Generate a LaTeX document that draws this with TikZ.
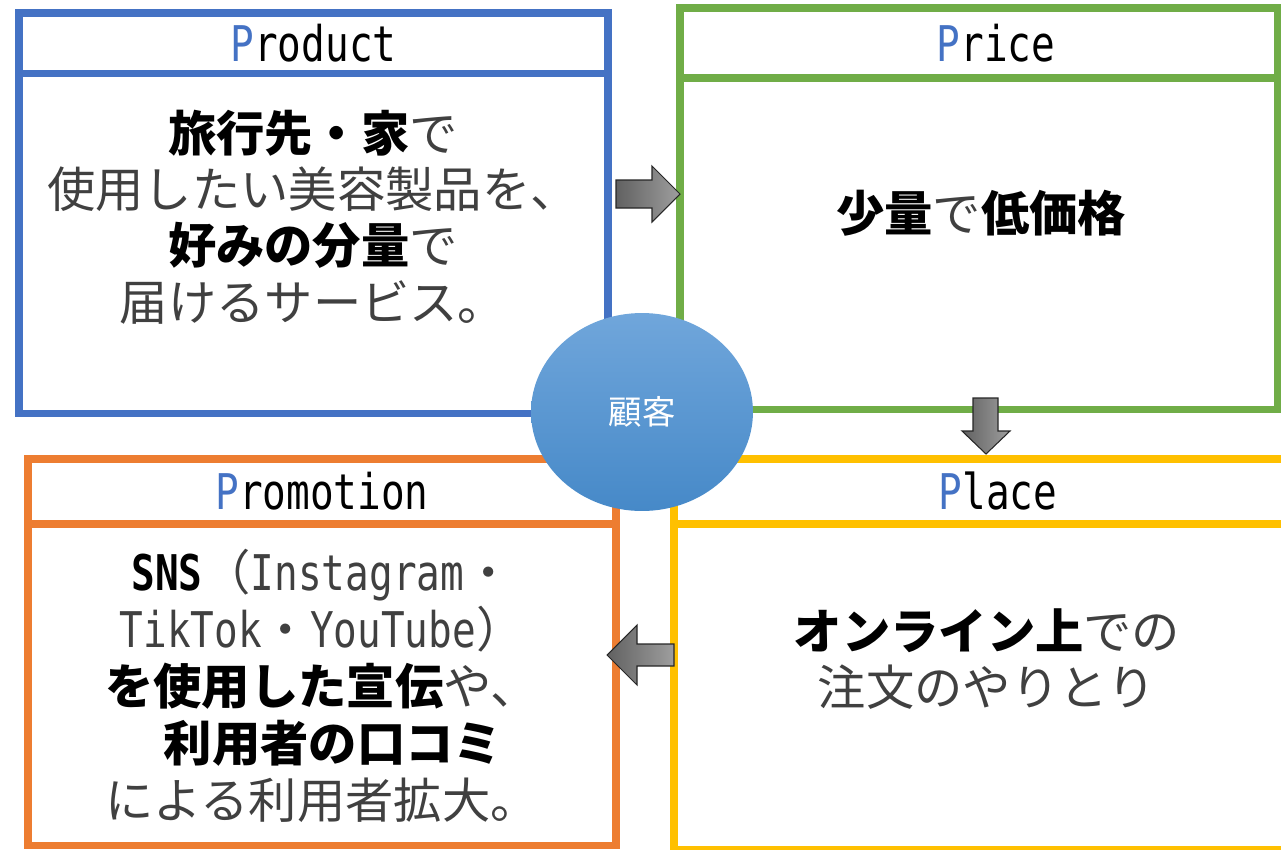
\documentclass[tikz,border=0pt]{standalone}
\usepackage{fontspec}
\setmainfont{Noto Sans CJK JP}
\newfontfamily\titlefont[FakeStretch=0.8]{DejaVu Sans Mono}
\usepackage{tikz}
\usetikzlibrary{positioning,shapes.geometric,calc}
\usepackage{xcolor}

\definecolor{prodblue}{HTML}{4472C4}
\definecolor{pricegreen}{HTML}{70AD47}
\definecolor{placeyellow}{HTML}{FFC000}
\definecolor{promoorange}{HTML}{ED7D31}
\definecolor{bodygray}{HTML}{404040}
\definecolor{custtop}{HTML}{70A6DB}
\definecolor{custbottom}{HTML}{4689C8}

\newcommand{\bigP}[1]{{\color{prodblue}P}#1}
\newcommand{\keyword}[1]{{\bfseries\color{black}#1}}
\newcommand{\latin}[1]{{\titlefont\fontsize{28pt}{32pt}\selectfont #1}}

\begin{document}
\begin{tikzpicture}[
    x=0.02cm, y=-0.02cm,
    head/.style={
        rectangle, draw, line width=4.2pt, outer sep=0pt, inner sep=0pt,
        font=\titlefont\fontsize{28pt}{32pt}\selectfont
    },
    cell/.style={
        rectangle, draw, line width=4.2pt, outer sep=0pt, inner sep=0pt
    },
    maintext/.style={
        align=center, text=bodygray,
        font=\fontsize{27.5pt}{32pt}\selectfont
    },
    customer/.style={
        ellipse, top color=custtop, bottom color=custbottom, draw=none,
        minimum width=4.44cm, minimum height=3.96cm,
        text=white, font=\fontsize{19pt}{22pt}\selectfont
    },
    blockarrow/.style={
        draw=black!85, line width=0.6pt,
        left color=black!62, right color=black!38
    }
]
\useasboundingbox (0,0) rectangle (1281,849);

% Product
\node[head, draw=prodblue, minimum width=11.78cm, minimum height=1.21cm] (prodhead) at (313.5,43.25) {\bigP{roduct}};
\node[cell, draw=prodblue, minimum width=11.78cm, minimum height=6.8cm, below=0pt of prodhead] (prodbody) {};

% Price
\node[head, draw=pricegreen, minimum width=11.96cm, minimum height=1.4cm] (pricehead) at (979,43) {\hspace*{0.68cm}\bigP{rice}};
\node[cell, draw=pricegreen, minimum width=11.96cm, minimum height=6.63cm, below=0pt of pricehead] (pricebody) {};

% Promotion
\node[head, draw=promoorange, minimum width=11.76cm, minimum height=1.3cm] (promohead) at (322,491.5) {\bigP{romotion}};
\node[cell, draw=promoorange, minimum width=11.76cm, minimum height=6.43cm, below=0pt of promohead] (promobody) {};

% Place
\node[head, draw=placeyellow, minimum width=12.32cm, minimum height=1.3cm] (placehead) at (982,491.5) {\hspace*{0.64cm}\bigP{lace}};
\node[cell, draw=placeyellow, minimum width=12.32cm, minimum height=6.52cm, below=0pt of placehead] (placebody) {};

% Texts
\node[maintext] (prodtext) at (313,217) {\keyword{旅行先・家}で\\使用したい美容製品を、\\\keyword{好みの分量}で\\届けるサービス。};
\node[maintext] (pricetext) at (981,213) {\keyword{少量}で\keyword{低価格}};
\node[maintext] (placetext) at (987,659) {\keyword{オンライン上}での\\注文のやりとり};
\node[maintext, font=\fontsize{27.5pt}{32.5pt}\selectfont] (promotext) at (322,686) {\keyword{\latin{SNS}}（\latin{Instagram}・\\\latin{TikTok}・\latin{YouTube}）\\\keyword{を使用した宣伝}や、\\\hspace*{0.45em}\keyword{利用者の口コミ}\\による利用者拡大。};

% Customer in the middle
\node[customer] (cust) at (642,412) {顧客};

% Block arrows
\coordinate (toprice) at (616,194);
\coordinate (toplace) at (985.5,398);
\coordinate (topromo) at (674,655);
\draw[blockarrow] (toprice) ++(0,-14) -- ++(36,0) -- ++(0,-14) -- ++(28,28) -- ++(-28,28) -- ++(0,-14) -- ++(-36,0) -- cycle;
\draw[blockarrow] (toplace) ++(-12.5,0) -- ++(0,33) -- ++(-11,0) -- ++(24,23) -- ++(24,-23) -- ++(-12,0) -- ++(0,-33) -- cycle;
\draw[blockarrow] (topromo) ++(0,-11) -- ++(-37,0) -- ++(0,-19) -- ++(-30,30) -- ++(30,30) -- ++(0,-19) -- ++(37,0) -- cycle;

\end{tikzpicture}
\end{document}
